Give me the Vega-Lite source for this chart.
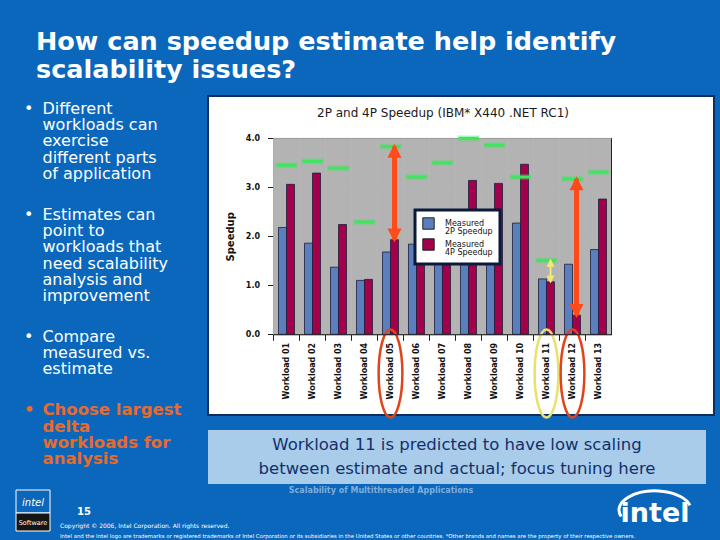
{
  "$schema": "https://vega.github.io/schema/vega-lite/v6.json",
  "background": "#0A67BC",
  "padding": {"left": 0, "top": 29, "right": 0, "bottom": 0},
  "autosize": {"type": "pad"},
  "config": {
    "view": {"stroke": null},
    "font": "DejaVu Sans",
    "axis": {"labelFont": "DejaVu Sans", "titleFont": "DejaVu Sans"},
    "legend": {"labelFont": "DejaVu Sans"},
    "title": {"font": "DejaVu Sans"}
  },
  "title": {
    "text": ["How can speedup estimate help identify", "scalability issues?"],
    "anchor": "start",
    "frame": "group",
    "dx": 36,
    "offset": -8,
    "baseline": "alphabetic",
    "fontSize": 25.5,
    "lineHeight": 28,
    "fontWeight": "bold",
    "color": "#FFFFFF"
  },
  "datasets": {
    "speedup": [
      {"workload": "Workload 01", "series": "Measured 2P Speedup", "speedup": 2.18},
      {"workload": "Workload 01", "series": "Measured 4P Speedup", "speedup": 3.06},
      {"workload": "Workload 02", "series": "Measured 2P Speedup", "speedup": 1.86},
      {"workload": "Workload 02", "series": "Measured 4P Speedup", "speedup": 3.29},
      {"workload": "Workload 03", "series": "Measured 2P Speedup", "speedup": 1.37},
      {"workload": "Workload 03", "series": "Measured 4P Speedup", "speedup": 2.24},
      {"workload": "Workload 04", "series": "Measured 2P Speedup", "speedup": 1.10},
      {"workload": "Workload 04", "series": "Measured 4P Speedup", "speedup": 1.12},
      {"workload": "Workload 05", "series": "Measured 2P Speedup", "speedup": 1.68},
      {"workload": "Workload 05", "series": "Measured 4P Speedup", "speedup": 1.93},
      {"workload": "Workload 06", "series": "Measured 2P Speedup", "speedup": 1.84},
      {"workload": "Workload 06", "series": "Measured 4P Speedup", "speedup": 2.39},
      {"workload": "Workload 07", "series": "Measured 2P Speedup", "speedup": 1.57},
      {"workload": "Workload 07", "series": "Measured 4P Speedup", "speedup": 2.12},
      {"workload": "Workload 08", "series": "Measured 2P Speedup", "speedup": 1.94},
      {"workload": "Workload 08", "series": "Measured 4P Speedup", "speedup": 3.14},
      {"workload": "Workload 09", "series": "Measured 2P Speedup", "speedup": 1.76},
      {"workload": "Workload 09", "series": "Measured 4P Speedup", "speedup": 3.08},
      {"workload": "Workload 10", "series": "Measured 2P Speedup", "speedup": 2.27},
      {"workload": "Workload 10", "series": "Measured 4P Speedup", "speedup": 3.47},
      {"workload": "Workload 11", "series": "Measured 2P Speedup", "speedup": 1.13},
      {"workload": "Workload 11", "series": "Measured 4P Speedup", "speedup": 1.07},
      {"workload": "Workload 12", "series": "Measured 2P Speedup", "speedup": 1.43},
      {"workload": "Workload 12", "series": "Measured 4P Speedup", "speedup": 0.39},
      {"workload": "Workload 13", "series": "Measured 2P Speedup", "speedup": 1.73},
      {"workload": "Workload 13", "series": "Measured 4P Speedup", "speedup": 2.76}
    ],
    "estimate": [
      {"workload": "Workload 01", "estimate": 3.45},
      {"workload": "Workload 02", "estimate": 3.53},
      {"workload": "Workload 03", "estimate": 3.39},
      {"workload": "Workload 04", "estimate": 2.29},
      {"workload": "Workload 05", "estimate": 3.83},
      {"workload": "Workload 06", "estimate": 3.21},
      {"workload": "Workload 07", "estimate": 3.50},
      {"workload": "Workload 08", "estimate": 4.00},
      {"workload": "Workload 09", "estimate": 3.86},
      {"workload": "Workload 10", "estimate": 3.21},
      {"workload": "Workload 11", "estimate": 1.51},
      {"workload": "Workload 12", "estimate": 3.17},
      {"workload": "Workload 13", "estimate": 3.31}
    ],
    "arrows": [
      {"workload": "Workload 05", "kind": "major", "low": 1.93, "high": 3.83},
      {"workload": "Workload 11", "kind": "minor", "low": 1.07, "high": 1.51},
      {"workload": "Workload 12", "kind": "major", "low": 0.39, "high": 3.17}
    ],
    "ellipses": [
      {"workload": "Workload 05", "kind": "major"},
      {"workload": "Workload 11", "kind": "minor"},
      {"workload": "Workload 12", "kind": "major"}
    ],
    "bullets": [
      {"point": 1, "col": "bullet", "line": 0, "text": "•"},
      {"point": 1, "col": "text", "line": 0, "text": "Different"},
      {"point": 1, "col": "text", "line": 1, "text": "workloads can"},
      {"point": 1, "col": "text", "line": 2, "text": "exercise"},
      {"point": 1, "col": "text", "line": 3, "text": "different parts"},
      {"point": 1, "col": "text", "line": 4, "text": "of application"},
      {"point": 2, "col": "bullet", "line": 6.5, "text": "•"},
      {"point": 2, "col": "text", "line": 6.5, "text": "Estimates can"},
      {"point": 2, "col": "text", "line": 7.5, "text": "point to"},
      {"point": 2, "col": "text", "line": 8.5, "text": "workloads that"},
      {"point": 2, "col": "text", "line": 9.5, "text": "need scalability"},
      {"point": 2, "col": "text", "line": 10.5, "text": "analysis and"},
      {"point": 2, "col": "text", "line": 11.5, "text": "improvement"},
      {"point": 3, "col": "bullet", "line": 14, "text": "•"},
      {"point": 3, "col": "text", "line": 14, "text": "Compare"},
      {"point": 3, "col": "text", "line": 15, "text": "measured vs."},
      {"point": 3, "col": "text", "line": 16, "text": "estimate"},
      {"point": 4, "col": "bullet", "line": 18.5, "text": "•"},
      {"point": 4, "col": "text", "line": 18.5, "text": "Choose largest"},
      {"point": 4, "col": "text", "line": 19.5, "text": "delta"},
      {"point": 4, "col": "text", "line": 20.5, "text": "workloads for"},
      {"point": 4, "col": "text", "line": 21.5, "text": "analysis"}
    ],
    "callout": [
      {"line": 1, "text": "Workload 11 is predicted to have low scaling"},
      {"line": 2, "text": "between estimate and actual; focus tuning here"}
    ]
  },
  "spacing": 0,
  "vconcat": [
    {
      "spacing": 0,
      "hconcat": [
        {
          "width": 207,
          "height": 388,
          "data": {"name": "bullets"},
          "encoding": {
            "x": {"field": "col", "type": "nominal", "scale": {"type": "point", "domain": ["bullet", "text"], "range": [24, 42.5], "padding": 0}, "axis": null},
            "y": {"field": "line", "type": "quantitative", "scale": {"domain": [-1.086, 22.72], "reverse": true, "nice": false, "zero": false}, "axis": null},
            "text": {"field": "text", "type": "nominal"}
          },
          "layer": [
            {
              "transform": [{"filter": "datum.point < 4"}],
              "mark": {"type": "text", "align": "left", "baseline": "alphabetic", "fontSize": 16, "color": "#FFFFFF"}
            },
            {
              "transform": [{"filter": "datum.point == 4"}],
              "mark": {"type": "text", "align": "left", "baseline": "alphabetic", "fontSize": 16.5, "fontWeight": "bold", "color": "#E46C2E"}
            }
          ]
        },
        {
          "spacing": 15,
          "bounds": "flush",
          "vconcat": [
            {
              "width": 506,
              "height": 319,
              "view": {"fill": "#FFFFFF", "stroke": "#0B2E5E", "strokeWidth": 2},
              "title": {
                "text": "2P and 4P Speedup (IBM* X440 .NET RC1)",
                "frame": "group",
                "anchor": "middle",
                "offset": -33,
                "baseline": "alphabetic",
                "dx": -18,
                "fontSize": 12,
                "fontWeight": "normal",
                "color": "#1A1A1A"
              },
              "encoding": {
                "x": {
                  "field": "workload",
                  "type": "nominal",
                  "scale": {"range": [65.5, 403.5], "paddingInner": 0, "paddingOuter": 0},
                  "axis": {
                    "orient": "bottom",
                    "offset": -80.7,
                    "title": null,
                    "labelAngle": -90,
                    "labelFontSize": 8,
                    "labelFontWeight": "bold",
                    "labelColor": "#111111",
                    "labelPadding": 2,
                    "tickSize": 6,
                    "tickColor": "#222222",
                    "domainColor": "#222222",
                    "bandPosition": 0,
                    "grid": false
                  }
                }
              },
              "resolve": {"axis": {"y": "independent"}},
              "layer": [
                {
                  "data": {"name": "estimate"},
                  "mark": {"type": "rect", "color": "#B3B3B3", "stroke": "#B3B3B3", "strokeWidth": 0.6},
                  "encoding": {
                    "y": {"datum": 0, "type": "quantitative", "scale": {"domain": [0, 4], "range": [238.3, 42.3], "nice": false}, "axis": null},
                    "y2": {"datum": 4}
                  }
                },
                {
                  "data": {"name": "speedup"},
                  "mark": {"type": "bar", "stroke": "#1E1E3C", "strokeWidth": 0.8},
                  "encoding": {
                    "xOffset": {"field": "series", "type": "nominal", "scale": {"domain": ["Measured 2P Speedup", "Measured 4P Speedup"], "paddingInner": 0, "paddingOuter": 0.625}},
                    "y": {
                      "field": "speedup",
                      "type": "quantitative",
                      "scale": {"domain": [0, 4], "range": [238.3, 42.3], "nice": false},
                      "axis": {
                        "orient": "left",
                        "offset": -65.5,
                        "title": "Speedup",
                        "titleFontSize": 10,
                        "titleFontWeight": "bold",
                        "titleColor": "#111111",
                        "titlePadding": 10,
                        "values": [0, 1, 2, 3, 4],
                        "format": ".1f",
                        "labelFontSize": 8,
                        "labelFontWeight": "bold",
                        "labelColor": "#111111",
                        "labelPadding": 8,
                        "tickSize": 6,
                        "tickColor": "#222222",
                        "domainColor": "#222222",
                        "grid": true,
                        "gridColor": "#111111",
                        "gridOpacity": 1,
                        "gridWidth": 1
                      }
                    },
                    "color": {
                      "field": "series",
                      "type": "nominal",
                      "scale": {"domain": ["Measured 2P Speedup", "Measured 4P Speedup"], "range": ["#5B7EBD", "#A2004B"]},
                      "legend": {
                        "title": null,
                        "orient": "none",
                        "legendX": 415,
                        "legendY": 114,
                        "fillColor": "#FFFFFF",
                        "strokeColor": "#0A1A3A",
                        "padding": 7,
                        "symbolType": "square",
                        "symbolSize": 130,
                        "symbolStrokeColor": "#222222",
                        "symbolStrokeWidth": 1,
                        "symbolOpacity": 1,
                        "labelFontSize": 8,
                        "labelColor": "#111111",
                        "labelOffset": 10,
                        "rowPadding": 0,
                        "labelExpr": "['Measured', slice(datum.label, 9)]",
                        "encode": {
                          "legend": {"update": {"strokeWidth": {"value": 3}}},
                          "labels": {"update": {"lineHeight": {"value": 8}}}
                        }
                      }
                    }
                  }
                },
                {
                  "data": {"name": "estimate"},
                  "mark": {"type": "tick", "color": "#3EE65C", "thickness": 6, "size": 22, "opacity": 0.3},
                  "encoding": {"y": {"field": "estimate", "type": "quantitative", "axis": null}}
                },
                {
                  "data": {"name": "estimate"},
                  "mark": {"type": "tick", "color": "#3EE65C", "thickness": 3, "size": 20, "opacity": 1},
                  "encoding": {"y": {"field": "estimate", "type": "quantitative", "axis": null}}
                },
                {
                  "data": {"name": "estimate"},
                  "transform": [{"filter": "datum.workload == 'Workload 13'"}],
                  "mark": {"type": "rule", "color": "#222222", "strokeWidth": 1},
                  "encoding": {
                    "x": {"field": "workload", "type": "nominal", "bandPosition": 1},
                    "y": {"datum": 0, "type": "quantitative", "axis": null},
                    "y2": {"datum": 4}
                  }
                },
                {
                  "data": {"name": "arrows"},
                  "mark": {"type": "rule", "strokeCap": "butt"},
                  "encoding": {
                    "xOffset": {"datum": "Measured 4P Speedup", "type": "nominal"},
                    "y": {"field": "low", "type": "quantitative", "axis": null},
                    "y2": {"field": "high"},
                    "color": {"condition": {"test": "datum.kind == 'minor'", "value": "#F3E872"}, "value": "#FF4B1A"},
                    "strokeWidth": {"condition": {"test": "datum.kind == 'minor'", "value": 2}, "value": 5}
                  }
                },
                {
                  "data": {"name": "arrows"},
                  "mark": {"type": "point", "filled": true, "opacity": 1, "strokeWidth": 0, "shape": "M0,-0.4L-1,1.6L1,1.6Z"},
                  "encoding": {
                    "xOffset": {"datum": "Measured 4P Speedup", "type": "nominal"},
                    "y": {"field": "high", "type": "quantitative", "axis": null},
                    "color": {"condition": {"test": "datum.kind == 'minor'", "value": "#F3E872"}, "value": "#FF4B1A"},
                    "size": {"condition": {"test": "datum.kind == 'minor'", "value": 64}, "value": 196}
                  }
                },
                {
                  "data": {"name": "arrows"},
                  "mark": {"type": "point", "filled": true, "opacity": 1, "strokeWidth": 0, "shape": "M0,0.4L-1,-1.6L1,-1.6Z"},
                  "encoding": {
                    "xOffset": {"datum": "Measured 4P Speedup", "type": "nominal"},
                    "y": {"field": "low", "type": "quantitative", "axis": null},
                    "color": {"condition": {"test": "datum.kind == 'minor'", "value": "#F3E872"}, "value": "#FF4B1A"},
                    "size": {"condition": {"test": "datum.kind == 'minor'", "value": 64}, "value": 196}
                  }
                },
                {
                  "data": {"name": "ellipses"},
                  "mark": {"type": "point", "filled": false, "opacity": 1, "strokeWidth": 2.5, "size": 7744, "shape": "M0,-1A0.27,1 0 1 1 0,1A0.27,1 0 1 1 0,-1Z"},
                  "encoding": {
                    "y": {"datum": -0.8, "type": "quantitative", "axis": null},
                    "color": {"condition": {"test": "datum.kind == 'minor'", "value": "#E9E06E"}, "value": "#E0441A"}
                  }
                }
              ]
            },
            {
              "width": 498,
              "height": 54,
              "view": {"fill": "#A9CCEA", "stroke": null},
              "data": {"name": "callout"},
              "mark": {"type": "text", "fontSize": 16.5, "color": "#12306C", "align": "center", "baseline": "middle"},
              "encoding": {
                "x": {"datum": 0.5, "type": "quantitative", "scale": {"domain": [0, 1]}, "axis": null},
                "y": {"field": "line", "type": "ordinal", "scale": {"type": "point", "padding": 0.6}, "axis": null},
                "text": {"field": "text", "type": "nominal"}
              }
            }
          ]
        }
      ]
    },
    {
      "width": 720,
      "height": 57,
      "encoding": {
        "x": {"datum": 0, "type": "quantitative", "scale": {"domain": [0, 720], "nice": false, "zero": false}, "axis": null},
        "y": {"datum": 0, "type": "quantitative", "scale": {"domain": [0, 57], "reverse": true, "nice": false, "zero": false}, "axis": null}
      },
      "layer": [
        {
          "data": {"values": [{"text": "Scalability of Multithreaded Applications"}]},
          "mark": {"type": "text", "align": "center", "baseline": "alphabetic", "fontSize": 8, "fontWeight": "bold", "color": "#7FAEDD"},
          "encoding": {"x": {"datum": 381}, "y": {"datum": 7}, "text": {"field": "text"}}
        },
        {
          "data": {"values": [{"text": "15"}]},
          "mark": {"type": "text", "align": "left", "baseline": "alphabetic", "fontSize": 10, "fontWeight": "bold", "color": "#FFFFFF"},
          "encoding": {"x": {"datum": 77}, "y": {"datum": 29}, "text": {"field": "text"}}
        },
        {
          "data": {"values": [{"text": "Copyright © 2006, Intel Corporation. All rights reserved."}]},
          "mark": {"type": "text", "align": "left", "baseline": "alphabetic", "fontSize": 6, "color": "#FFFFFF"},
          "encoding": {"x": {"datum": 60}, "y": {"datum": 42}, "text": {"field": "text"}}
        },
        {
          "data": {"values": [{"text": "Intel and the Intel logo are trademarks or registered trademarks of Intel Corporation or its subsidiaries in the United States or other countries. *Other brands and names are the property of their respective owners."}]},
          "mark": {"type": "text", "align": "left", "baseline": "alphabetic", "fontSize": 5.4, "color": "#FFFFFF"},
          "encoding": {"x": {"datum": 60}, "y": {"datum": 52}, "text": {"field": "text"}}
        },
        {
          "data": {"values": [{"part": "top"}]},
          "mark": {"type": "rect", "fill": "#0A67BC", "stroke": "#FFFFFF", "strokeWidth": 1},
          "encoding": {"x": {"datum": 16}, "x2": {"datum": 50}, "y": {"datum": 4}, "y2": {"datum": 27}}
        },
        {
          "data": {"values": [{"part": "bottom"}]},
          "mark": {"type": "rect", "fill": "#151515", "stroke": "#FFFFFF", "strokeWidth": 1},
          "encoding": {"x": {"datum": 16}, "x2": {"datum": 50}, "y": {"datum": 27}, "y2": {"datum": 45}}
        },
        {
          "data": {"values": [{"text": "intel"}]},
          "mark": {"type": "text", "align": "center", "baseline": "alphabetic", "fontSize": 10, "fontStyle": "italic", "color": "#FFFFFF"},
          "encoding": {"x": {"datum": 33}, "y": {"datum": 20}, "text": {"field": "text"}}
        },
        {
          "data": {"values": [{"text": "Software"}]},
          "mark": {"type": "text", "align": "center", "baseline": "alphabetic", "fontSize": 6.5, "color": "#FFFFFF"},
          "encoding": {"x": {"datum": 33}, "y": {"datum": 39}, "text": {"field": "text"}}
        },
        {
          "data": {"values": [{"text": "intel"}]},
          "mark": {"type": "text", "align": "center", "baseline": "alphabetic", "fontSize": 27, "fontWeight": "bold", "color": "#FFFFFF"},
          "encoding": {"x": {"datum": 655}, "y": {"datum": 36}, "text": {"field": "text"}}
        },
        {
          "data": {"values": [{"part": "swoosh"}]},
          "mark": {"type": "point", "filled": false, "opacity": 1, "color": "#FFFFFF", "strokeWidth": 3, "size": 5184, "shape": "M-0.94,0.18A1,0.53 0 1 1 0.97,-0.13"},
          "encoding": {"x": {"datum": 655}, "y": {"datum": 24}}
        }
      ]
    }
  ]
}
